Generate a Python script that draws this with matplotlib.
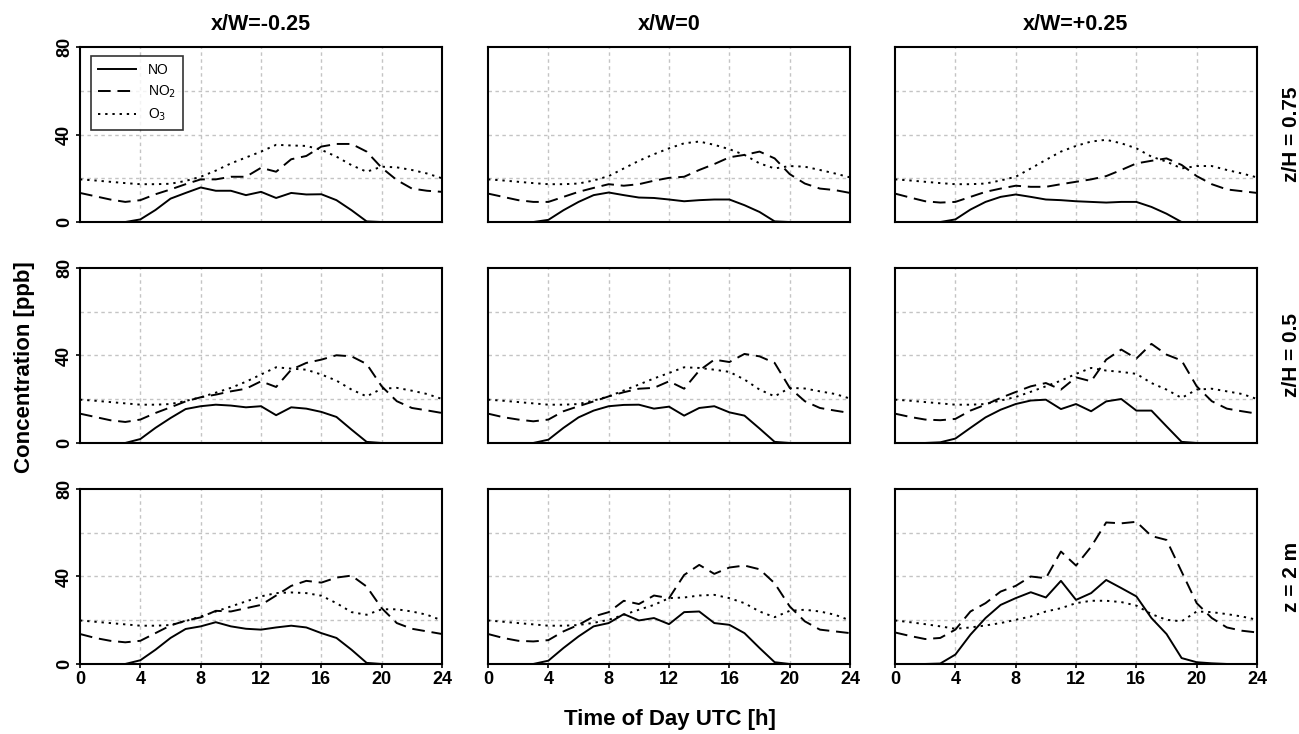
import numpy as np
import matplotlib.pyplot as plt

plt.rcParams['font.family'] = ['Liberation Sans', 'DejaVu Sans']

hours = list(range(25))
col_titles = ['x/W=-0.25', 'x/W=0', 'x/W=+0.25']
row_titles = ['z/H = 0.75', 'z/H = 0.5', 'z = 2 m']

# row 0: z/H = 0.75
no_r0c0 = [0, 0, 0, 0, 1.2, 5.5, 10.7, 13.3, 15.8, 14.3, 14.3, 12.3, 13.8, 11, 13.3, 12.6, 12.7, 10, 5.4, 0.3, 0, 0, 0, 0, 0]
no2_r0c0 = [13.3, 11.8, 10.3, 9.2, 10, 12.7, 14.9, 17.3, 19.5, 19.5, 20.7, 20.7, 24.8, 23, 28.7, 30.2, 34.5, 35.7, 35.7, 32.2, 24.8, 19.2, 15.3, 14.3, 13.8]
o3_r0c0 = [19.5, 19, 18.4, 17.8, 17.3, 17.3, 17.5, 18.8, 20.7, 23.5, 26.8, 29.5, 32.2, 35.3, 35, 34.8, 33, 29.9, 26, 23, 25.3, 25, 23.8, 22.2, 20]

no_r0c1 = [0, 0, 0, 0, 1, 5.4, 9.2, 12.3, 13.5, 12.3, 11.2, 11, 10.3, 9.5, 10, 10.3, 10.3, 7.7, 4.6, 0.3, 0, 0, 0, 0, 0]
no2_r0c1 = [13, 11.5, 10, 9.2, 9.2, 11.5, 13.8, 15.6, 17.3, 16.6, 17.3, 18.9, 20.2, 20.7, 23.8, 26.5, 29.6, 30.7, 32.2, 29.1, 21.9, 17.6, 15.3, 14.6, 13.3]
o3_r0c1 = [19.5, 19, 18.4, 17.8, 17.3, 17.3, 17.6, 19, 21, 24.5, 28, 31, 33.7, 36, 36.8, 35.3, 33.3, 30.7, 26.8, 24.5, 25.6, 25.3, 23.8, 22.2, 20.4]

no_r0c2 = [0, 0, 0, 0, 1.2, 5.7, 9.2, 11.5, 12.6, 11.5, 10.3, 10, 9.5, 9.2, 8.9, 9.2, 9.2, 6.9, 3.8, 0, 0, 0, 0, 0, 0]
no2_r0c2 = [13, 11.2, 9.5, 8.9, 9.2, 11.5, 13.8, 15.3, 16.6, 16.1, 16.1, 17.3, 18.4, 19.5, 21, 23.8, 26.8, 28, 29.1, 26.1, 21, 17.3, 14.9, 14.1, 13.3]
o3_r0c2 = [19.5, 19, 18.4, 17.8, 17.3, 17.3, 17.6, 19, 20.7, 24.5, 28.4, 32.2, 34.8, 36.8, 37.6, 36, 33.7, 29.9, 27.6, 24.5, 25.6, 25.6, 23.8, 22.2, 20.4]

# row 1: z/H = 0.5
no_r1c0 = [0, 0, 0, 0, 1.8, 6.9, 11.4, 15.5, 16.8, 17.5, 17.1, 16.3, 16.8, 12.7, 16.3, 15.7, 14.2, 11.9, 6.1, 0.5, 0, 0, 0, 0, 0]
no2_r1c0 = [13.4, 11.9, 10.4, 9.6, 10.7, 13.7, 16.3, 19, 20.9, 22.1, 23.6, 24.8, 28.2, 25.6, 33.5, 36.6, 38.1, 40.1, 39.6, 36.1, 25.9, 19.1, 16, 14.9, 13.7]
o3_r1c0 = [19.8, 19.3, 18.7, 18.1, 17.5, 17.5, 17.8, 19.2, 20.9, 23, 25.2, 28, 31.3, 34.6, 34, 33.5, 31.3, 28.5, 24.4, 21.3, 24.8, 25.2, 23.9, 22.4, 20.1]

no_r1c1 = [0, 0, 0, 0, 1.5, 6.9, 11.7, 14.8, 16.8, 17.4, 17.5, 15.7, 16.6, 12.5, 16, 16.8, 14, 12.5, 6.6, 0.5, 0, 0, 0, 0, 0]
no2_r1c1 = [13.4, 11.8, 10.7, 9.9, 10.7, 14.5, 16.8, 19, 21.3, 23.2, 24.8, 25.2, 28.2, 24.8, 33.1, 38.1, 37, 40.7, 39.6, 36.6, 25.2, 19.1, 16, 14.8, 13.7]
o3_r1c1 = [19.8, 19.3, 18.7, 18.1, 17.5, 17.5, 17.8, 19.4, 21.3, 24, 26.7, 29.5, 32, 34.6, 34.3, 33.5, 32.5, 29, 24.4, 21.3, 25.2, 24.9, 23.6, 22.4, 20.3]

no_r1c2 = [0, 0, 0, 0.3, 2, 6.9, 11.7, 15.2, 17.8, 19.4, 19.8, 15.5, 17.8, 14.5, 19, 20.1, 14.8, 14.8, 7.6, 0.5, 0, 0, 0, 0, 0]
no2_r1c2 = [13.4, 11.9, 10.7, 10.4, 11, 14.8, 17.5, 20.6, 23.3, 25.9, 27.4, 24.4, 30, 28.2, 38.1, 42.7, 38.6, 45.3, 40.4, 37.7, 25.9, 19.1, 15.7, 14.5, 13.4]
o3_r1c2 = [19.8, 19.3, 18.7, 18.1, 17.5, 17.5, 17.8, 19.4, 21, 23.4, 25.9, 28.5, 31.6, 34.3, 33.1, 32.5, 31.6, 27.4, 24.4, 20.6, 24.4, 24.8, 23.6, 22.4, 20.1]

# row 2: z = 2 m
no_r2c0 = [0, 0, 0, 0, 1.7, 6.5, 11.9, 16, 17.2, 19.1, 17.2, 16.1, 15.7, 16.7, 17.5, 16.7, 14.1, 11.9, 6.5, 0.5, 0, 0, 0, 0, 0]
no2_r2c0 = [13.7, 11.9, 10.6, 9.9, 10.6, 14.1, 17.6, 19.8, 21.3, 24.3, 24, 25.5, 27, 31.3, 35.7, 38, 37.2, 39.5, 40.4, 35.4, 25.5, 18.7, 16.1, 14.9, 13.7]
o3_r2c0 = [19.9, 19.3, 18.7, 18.1, 17.5, 17.5, 17.8, 19.6, 21.7, 24, 26.3, 28.6, 30.9, 32.4, 32.7, 32.4, 31.2, 27.8, 23.7, 22.5, 25, 25, 24, 22.5, 19.9]

no_r2c1 = [0, 0, 0, 0, 1.5, 7.3, 12.6, 17.2, 18.7, 22.8, 19.9, 21, 18.2, 23.7, 24, 18.7, 17.9, 14.1, 7.3, 0.8, 0, 0, 0, 0, 0]
no2_r2c1 = [13.7, 11.9, 10.6, 10.3, 10.9, 14.9, 17.9, 21.7, 23.7, 28.9, 27.4, 31.3, 30.1, 40.7, 45.3, 41.2, 44.1, 45, 43.3, 36.9, 26.3, 19.5, 15.7, 14.9, 14.1]
o3_r2c1 = [19.9, 19.3, 18.7, 18.1, 17.5, 17.5, 17.8, 18.8, 20.2, 22.5, 24.8, 27, 30.1, 30.4, 31.3, 31.6, 30.1, 27.8, 24, 21.4, 24.3, 24.8, 24, 22.5, 19.9]

no_r2c2 = [0, 0, 0, 0.2, 4.3, 13.4, 21, 27, 30.1, 32.8, 30.4, 38, 29.3, 32.4, 38.4, 34.7, 30.9, 21, 13.7, 2.7, 0.8, 0.3, 0, 0, 0]
no2_r2c2 = [14.4, 12.8, 11.4, 11.9, 15.7, 24, 27.8, 33.1, 35.7, 40, 39.2, 51.4, 45, 53.6, 64.7, 64.3, 65, 58.5, 56.7, 42.2, 27.8, 21, 16.7, 15.2, 14.4]
o3_r2c2 = [19.9, 19.1, 18.2, 17.2, 16.1, 16.7, 17.6, 18.7, 20.2, 21.7, 24, 25.5, 27.8, 28.9, 28.9, 28.3, 26.7, 22.8, 20.2, 19.5, 24, 23.7, 22.8, 21.7, 20.2]

no_all = [[no_r0c0, no_r0c1, no_r0c2], [no_r1c0, no_r1c1, no_r1c2], [no_r2c0, no_r2c1, no_r2c2]]
no2_all = [[no2_r0c0, no2_r0c1, no2_r0c2], [no2_r1c0, no2_r1c1, no2_r1c2], [no2_r2c0, no2_r2c1, no2_r2c2]]
o3_all = [[o3_r0c0, o3_r0c1, o3_r0c2], [o3_r1c0, o3_r1c1, o3_r1c2], [o3_r2c0, o3_r2c1, o3_r2c2]]

fig = plt.figure(figsize=(12.99, 7.34), dpi=100)

lefts = [0.0616, 0.3757, 0.6890]
bottoms = [0.6975, 0.3965, 0.0954]
w, h = 0.2787, 0.2384

for r in range(3):
    for c in range(3):
        ax = fig.add_axes([lefts[c], bottoms[r], w, h])
        ax.plot(hours, no_all[r][c], color='black', lw=1.4, ls='-', label='NO')
        ax.plot(hours, no2_all[r][c], color='black', lw=1.4, ls=(0, (6.5, 3.5)), label='NO$_2$')
        ax.plot(hours, o3_all[r][c], color='black', lw=1.4, ls=(0, (1.2, 2.5)), label='O$_3$')
        ax.set_xlim(0, 24)
        ax.set_ylim(0, 80)
        for gx in [4, 8, 12, 16, 20]:
            ax.axvline(gx, color='#c4c4c4', lw=1, ls=(0, (2.5, 2.5)), zorder=0)
        for gy in [20, 40, 60]:
            ax.axhline(gy, color='#c4c4c4', lw=1, ls=(0, (2.5, 2.5)), zorder=0)
        for sp in ax.spines.values():
            sp.set_linewidth(1.5)
        ax.set_xticks([0, 4, 8, 12, 16, 20, 24])
        ax.set_yticks([0, 40, 80])
        ax.tick_params(direction='out', length=3, width=1.2, labelsize=13, pad=2)
        if r == 2:
            ax.set_xticklabels([str(v) for v in [0, 4, 8, 12, 16, 20, 24]], fontweight='bold')
        else:
            ax.tick_params(axis='x', length=0, labelbottom=False)
        if c == 0:
            ax.set_yticklabels(['0', '40', '80'], fontweight='bold', rotation=90, va='center')
        else:
            ax.tick_params(axis='y', length=0, labelleft=False)
        if r == 0:
            ax.set_title(col_titles[c], fontsize=15.5, fontweight='bold', pad=12)
        if c == 2:
            ax.text(1.095, 0.5, row_titles[r], transform=ax.transAxes, rotation=90,
                    ha='center', va='center', fontsize=15, fontweight='bold')
        if r == 0 and c == 0:
            leg = ax.legend(loc='upper left', fontsize=10, frameon=True, fancybox=False,
                            edgecolor='black', handlelength=2.8, borderpad=0.5,
                            bbox_to_anchor=(0.01, 0.99))
            leg.get_frame().set_linewidth(1.2)

fig.text(0.019, 0.5, 'Concentration [ppb]', rotation=90, ha='center', va='center',
         fontsize=16, fontweight='bold')
fig.text(0.516, 0.02, 'Time of Day UTC [h]', ha='center', va='center',
         fontsize=16, fontweight='bold')

fig.savefig('out.png', dpi=100)
